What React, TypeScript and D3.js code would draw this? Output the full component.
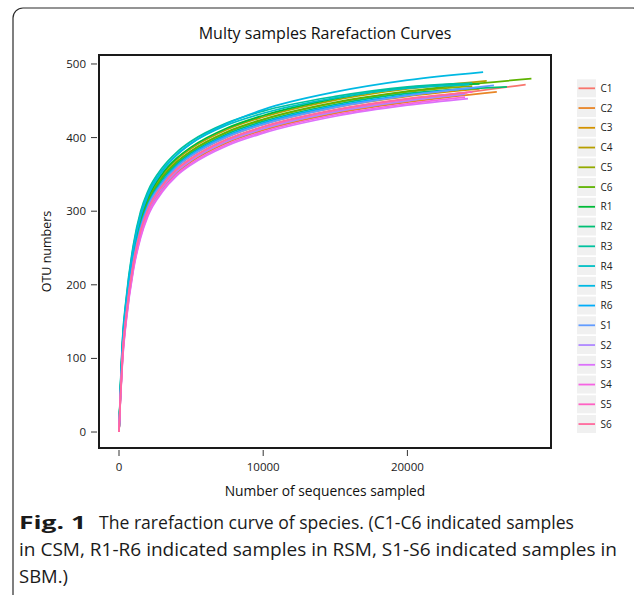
import React from "react";
import * as d3 from "d3";

const sampleNames = ["C1","C2","C3","C4","C5","C6","R1","R2","R3","R4","R5","R6","S1","S2","S3","S4","S5","S6"];
const depths = [0, 100, 250, 500, 1000, 1500, 2000, 3000, 4000, 5000, 7500, 10000, 15000, 20000];
const endDepths = [28200, 26200, 25000, 25500, 24500, 28600, 25000, 26900, 24500, 24300, 25250, 24800, 26000, 24000, 24200, 24000, 24500, 24150];
const otuValues = [
  [0, 47, 104, 156, 226, 270, 299, 332, 354, 369, 395, 412, 435, 450, 472],
  [0, 46, 102, 154, 224, 268, 297, 330, 352, 367, 393, 410, 433, 448, 462],
  [0, 51, 109, 162, 233, 277, 306, 338, 360, 375, 401, 418, 441, 456, 466],
  [0, 56, 119, 172, 244, 289, 316, 349, 370, 385, 411, 428, 451, 466, 477],
  [0, 54, 115, 168, 239, 284, 312, 344, 366, 381, 407, 424, 447, 462, 470],
  [0, 55, 116, 169, 241, 285, 313, 346, 367, 382, 408, 425, 448, 463, 480],
  [0, 57, 120, 174, 246, 291, 318, 351, 372, 387, 413, 430, 453, 468, 473],
  [0, 53, 113, 166, 238, 282, 310, 343, 364, 379, 405, 422, 445, 460, 469],
  [0, 62, 128, 182, 255, 300, 327, 359, 380, 395, 420, 436, 456, 469, 474],
  [0, 60, 125, 179, 252, 297, 324, 356, 377, 392, 417, 433, 454, 467, 472],
  [0, 58, 122, 176, 248, 293, 321, 354, 376, 392, 419, 438, 462, 478, 489],
  [0, 52, 111, 164, 235, 280, 308, 340, 362, 377, 403, 420, 443, 458, 468],
  [0, 51, 109, 162, 233, 277, 306, 338, 360, 375, 401, 418, 441, 457, 471],
  [0, 47, 104, 156, 226, 270, 299, 332, 354, 369, 395, 412, 435, 450, 459],
  [0, 44, 98, 150, 220, 264, 293, 326, 348, 363, 389, 406, 429, 444, 453],
  [0, 45, 100, 152, 222, 266, 295, 328, 350, 365, 391, 408, 431, 446, 455],
  [0, 48, 106, 158, 229, 273, 301, 334, 356, 371, 397, 414, 437, 452, 462],
  [0, 49, 106, 159, 230, 274, 302, 335, 357, 372, 398, 415, 438, 453, 461],
];
const xTicks = [0, 10000, 20000];
const yTicks = [0, 100, 200, 300, 400, 500];
const titleText = "Multy samples Rarefaction Curves";
const xLabel = "Number of sequences sampled";
const yLabel = "OTU numbers";
const captionBold = "Fig. 1";
const captionLines = [
  "The rarefaction curve of species. (C1-C6 indicated samples",
  "in CSM, R1-R6 indicated samples in RSM, S1-S6 indicated samples in",
  "SBM.)",
];

function hclToHex(h: number, c: number, l: number): string {
  const Xn = 95.047, Yn = 100, Zn = 108.883;
  const hr = (h * Math.PI) / 180;
  const U = c * Math.cos(hr), V = c * Math.sin(hr);
  const Y = l > 8 ? Yn * Math.pow((l + 16) / 116, 3) : (Yn * l) / 903.3;
  const t = Xn + 15 * Yn + 3 * Zn;
  const un = (4 * Xn) / t, vn = (9 * Yn) / t;
  const u = U / (13 * l) + un, v = V / (13 * l) + vn;
  const X = (9 * Y * u) / (4 * v);
  const Z = -X / 3 - 5 * Y + (3 * Y) / v;
  const x = X / 100, y = Y / 100, z = Z / 100;
  const lin = [
    3.240479 * x - 1.53715 * y - 0.498535 * z,
    -0.969256 * x + 1.875992 * y + 0.041556 * z,
    0.055648 * x - 0.204043 * y + 1.057311 * z,
  ];
  const ch = lin.map((c0) => {
    const g = c0 <= 0.0031308 ? 12.92 * c0 : 1.055 * Math.pow(c0, 1 / 2.4) - 0.055;
    return Math.round(Math.max(0, Math.min(1, g)) * 255);
  });
  return d3.rgb(ch[0], ch[1], ch[2]).formatHex();
}

const colors = sampleNames.map((_, i) => hclToHex(15 + (i * 360) / sampleNames.length, 100, 65));

const panel = { left: 99, right: 551, top: 55, bottom: 448 };
const font = "'Open Sans', 'Noto Sans', sans-serif";

export default function App() {
  const x = d3.scaleLinear().domain([-1387, 29958]).range([panel.left, panel.right]);
  const y = d3.scaleLinear().domain([-21.7, 512.2]).range([panel.bottom, panel.top]);
  const line = d3
    .line<[number, number]>()
    .x((d) => x(d[0]))
    .y((d) => y(d[1]))
    .curve(d3.curveMonotoneX);

  const series = sampleNames.map((name, i) => {
    const xs = [...depths, endDepths[i]];
    const pts: [number, number][] = xs.map((dx, j) => [dx, otuValues[i][j]]);
    return { name, color: colors[i], pts };
  });

  const legendY0 = 88.3;
  const legendStep = 19.75;

  return (
    <svg width={634} height={595} style={{ position: "absolute", left: 0, top: 0, background: "#fff" }}>
      <rect x={13} y={8} width={630} height={600} rx={10} ry={10} fill="none" stroke="#2b2b2b" strokeWidth={1.2} />
      <text x={325} y={38.5} textAnchor="middle" fontFamily={font} fontSize={16} fill="#111">
        {titleText}
      </text>
      <defs>
        <clipPath id="panelClip">
          <rect x={panel.left} y={panel.top} width={panel.right - panel.left} height={panel.bottom - panel.top} />
        </clipPath>
      </defs>
      <rect x={panel.left} y={panel.top} width={panel.right - panel.left} height={panel.bottom - panel.top} fill="#fff" />
      <g clipPath="url(#panelClip)">
        {series.map((s) => (
          <path key={s.name} d={line(s.pts) || ""} fill="none" stroke={s.color} strokeWidth={1.7} />
        ))}
      </g>
      <rect x={panel.left} y={panel.top} width={panel.right - panel.left} height={panel.bottom - panel.top} fill="none" stroke="#1a1a1a" strokeWidth={2} />
      {yTicks.map((t) => (
        <g key={"y" + t}>
          <line x1={91} x2={97} y1={y(t)} y2={y(t)} stroke="#333" strokeWidth={1} />
          <text x={86} y={y(t) + 4} textAnchor="end" fontFamily={font} fontSize={11.5} fill="#1a1a1a">
            {t}
          </text>
        </g>
      ))}
      {xTicks.map((t) => (
        <g key={"x" + t}>
          <line x1={x(t)} x2={x(t)} y1={450} y2={456} stroke="#333" strokeWidth={1} />
          <text x={x(t)} y={471} textAnchor="middle" fontFamily={font} fontSize={11.5} fill="#1a1a1a">
            {t}
          </text>
        </g>
      ))}
      <text x={325} y={496} textAnchor="middle" fontFamily={font} fontSize={13.8} fill="#111">
        {xLabel}
      </text>
      <text transform={`translate(51,${(panel.top + panel.bottom) / 2}) rotate(-90)`} textAnchor="middle" fontFamily={font} fontSize={12.5} fill="#111">
        {yLabel}
      </text>
      {series.map((s, i) => {
        const cy = legendY0 + i * legendStep;
        return (
          <g key={"lg" + s.name}>
            <rect x={577} y={cy - 9} width={19} height={18} fill="#f0f0f0" />
            <line x1={578.5} x2={595} y1={cy} y2={cy} stroke={s.color} strokeWidth={1.8} />
            <text x={600.5} y={cy + 3.5} fontFamily={font} fontSize={10} fill="#222">
              {s.name}
            </text>
          </g>
        );
      })}
      <text x={19} y={529} fontFamily={font} fontSize={18.5} fill="#1a1a1a" fontWeight="bold" textLength={67} lengthAdjust="spacingAndGlyphs">
        {captionBold}
      </text>
      <text x={99} y={529} fontFamily={font} fontSize={18.5} fill="#1a1a1a" textLength={475} lengthAdjust="spacingAndGlyphs">
        {captionLines[0]}
      </text>
      <text x={19} y={556} fontFamily={font} fontSize={18.5} fill="#1a1a1a" textLength={598} lengthAdjust="spacingAndGlyphs">
        {captionLines[1]}
      </text>
      <text x={19} y={583} fontFamily={font} fontSize={18.5} fill="#1a1a1a" textLength={49} lengthAdjust="spacingAndGlyphs">
        {captionLines[2]}
      </text>
    </svg>
  );
}
